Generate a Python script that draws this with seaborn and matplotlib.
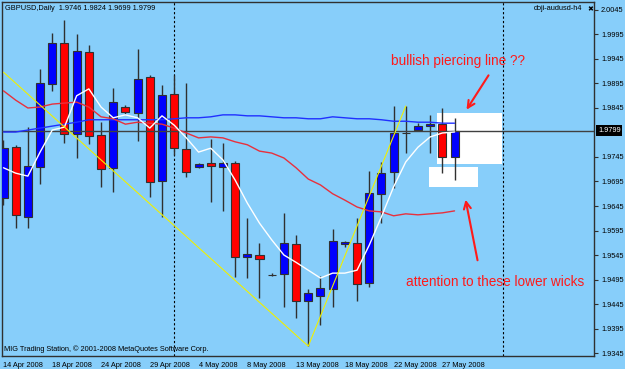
import matplotlib
matplotlib.use('Agg')
import matplotlib.pyplot as plt
import matplotlib.transforms as mtransforms
from matplotlib.patches import Rectangle
import seaborn as sns
import numpy as np
import pandas as pd

# GBPUSD daily candles
bar_open = [1.9661, 1.9765, 1.9623, 1.9725, 1.9894, 1.9978, 1.9792, 1.9959, 1.9790, 1.9723,
            1.9847, 1.9835, 1.9908, 1.9696, 1.9874, 1.9761, 1.9725, 1.9733, 1.9725, 1.9733,
            1.9541, 1.9545, 1.9504, 1.9506, 1.9567, 1.9451, 1.9461, 1.9476, 1.9567, 1.9570,
            1.9488, 1.9670, 1.9714, 1.9794, 1.9800, 1.9808, 1.9812, 1.9746]
bar_high = [1.9780, 1.9770, 1.9806, 1.9925, 1.9998, 2.0025, 1.9996, 1.9974, 1.9816, 1.9886,
            1.9851, 1.9965, 1.9912, 1.9892, 1.9912, 1.9896, 1.9733, 1.9782, 1.9774, 1.9737,
            1.9621, 1.9570, 1.9508, 1.9631, 1.9586, 1.9476, 1.9502, 1.9598, 1.9574, 1.9621,
            1.9716, 1.9735, 1.9849, 1.9849, 1.9814, 1.9831, 1.9845, 1.9824]
bar_low = [1.9647, 1.9600, 1.9600, 1.9690, 1.9880, 1.9774, 1.9743, 1.9772, 1.9684, 1.9674,
           1.9833, 1.9778, 1.9663, 1.9623, 1.9749, 1.9704, 1.9723, 1.9653, 1.9635, 1.9500,
           1.9498, 1.9457, 1.9502, 1.9439, 1.9416, 1.9359, 1.9402, 1.9439, 1.9561, 1.9451,
           1.9480, 1.9610, 1.9682, 1.9753, 1.9798, 1.9753, 1.9712, 1.9699]
bar_close = [1.9763, 1.9627, 1.9727, 1.9896, 1.9978, 1.9792, 1.9961, 1.9788, 1.9721, 1.9857,
             1.9837, 1.9904, 1.9694, 1.9872, 1.9763, 1.9714, 1.9731, 1.9727, 1.9733, 1.9541,
             1.9547, 1.9537, 1.9504, 1.9570, 1.9451, 1.9467, 1.9478, 1.9574, 1.9571, 1.9486,
             1.9672, 1.9712, 1.9794, 1.9794, 1.9808, 1.9812, 1.9745, 1.9799]

# moving averages as drawn (white = fast, red = mid, blue = slow)
ma_fast = [1.9723, 1.9712, 1.9706, 1.9755, 1.9800, 1.9806, 1.9870, 1.9884, 1.9847, 1.9825,
           1.9831, 1.9825, 1.9804, 1.9829, 1.9810, 1.9784, 1.9755, 1.9763, 1.9739, 1.9698,
           1.9651, 1.9610, 1.9576, 1.9545, 1.9530, 1.9514, 1.9498, 1.9508, 1.9508, 1.9514,
           1.9565, 1.9623, 1.9684, 1.9735, 1.9765, 1.9786, 1.9794, 1.9796]
ma_mid = [1.9880, 1.9861, 1.9845, 1.9847, 1.9853, 1.9855, 1.9857, 1.9847, 1.9827, 1.9823,
          1.9812, 1.9816, 1.9814, 1.9812, 1.9804, 1.9794, 1.9784, 1.9786, 1.9784, 1.9776,
          1.9770, 1.9757, 1.9753, 1.9743, 1.9723, 1.9700, 1.9688, 1.9670, 1.9657, 1.9643,
          1.9635, 1.9633, 1.9625, 1.9629, 1.9627, 1.9629, 1.9631, 1.9635]
ma_slow = [1.9796, 1.9796, 1.9800, 1.9804, 1.9808, 1.9812, 1.9816, 1.9821, 1.9821, 1.9821,
           1.9821, 1.9821, 1.9821, 1.9821, 1.9823, 1.9825, 1.9825, 1.9827, 1.9831, 1.9831,
           1.9829, 1.9829, 1.9827, 1.9825, 1.9825, 1.9823, 1.9823, 1.9827, 1.9825, 1.9823,
           1.9823, 1.9821, 1.9818, 1.9818, 1.9816, 1.9816, 1.9814, 1.9814]

zigzag_bars = [0, 25, 33]
zigzag_prices = [1.9918, 1.9359, 1.9849]

date_bars = [0, 4, 8, 12, 16, 20, 24, 28, 32, 36]
date_labels = ['14 Apr 2008', '18 Apr 2008', '24 Apr 2008', '29 Apr 2008', '4 May 2008',
               '8 May 2008', '13 May 2008', '18 May 2008', '22 May 2008', '27 May 2008']
price_ticks = [2.0045, 1.9995, 1.9945, 1.9895, 1.9845, 1.9745, 1.9695, 1.9645,
               1.9595, 1.9545, 1.9495, 1.9445, 1.9395, 1.9345]
last_price = 1.9799
separator_bars = [14, 41]

sns.set_style('white')
plt.rcParams['font.family'] = ['Liberation Sans', 'DejaVu Sans']

SKY = '#87CEFA'
EDGE = '#303030'
W, H = 625, 369
fig = plt.figure(figsize=(W / 100, H / 100), dpi=100, facecolor=SKY)
ax = fig.add_axes([2 / W, 1 - 356 / H, 592 / W, 354 / H], facecolor=SKY)

df = pd.DataFrame({'bar': np.arange(len(bar_open)), 'open': bar_open, 'high': bar_high,
                   'low': bar_low, 'close': bar_close})
up = df['close'] >= df['open']

# annotation boxes behind the candles
ax.add_patch(Rectangle((35.56, 1.97307), 40.9 - 35.56, 1.98348 - 1.97307,
                       facecolor='white', edgecolor='none', zorder=1))
ax.add_patch(Rectangle((34.9, 1.96838), 38.93 - 34.9, 1.97246 - 1.96838,
                       facecolor='white', edgecolor='none', zorder=1))

for b in separator_bars:
    ax.axvline(b, color='black', lw=0.8, ls=(0, (2, 2)), zorder=1.5)

ax.vlines(df['bar'], df['low'], df['high'], color=EDGE, lw=1, zorder=2)
ax.bar(df['bar'], (df['close'] - df['open']).abs(), bottom=df[['open', 'close']].min(axis=1),
       width=0.66, color=np.where(up, '#0000FF', '#FF0000'), edgecolor=EDGE, lw=0.8, zorder=3)

ax.axhline(last_price, color='#404040', lw=1, zorder=3.5)

sns.lineplot(x=df['bar'], y=ma_slow, color='#2030FF', lw=1, ax=ax, zorder=4)
sns.lineplot(x=df['bar'], y=ma_mid, color='#E8303C', lw=1, ax=ax, zorder=4)
sns.lineplot(x=df['bar'], y=ma_fast, color='white', lw=1, ax=ax, zorder=4)
sns.lineplot(x=zigzag_bars, y=zigzag_prices, color='#F0F000', lw=0.8, ax=ax, zorder=4)

ax.set_xlim(-0.123, 48.44)
ax.set_ylim(1.93389, 2.00613)
ax.set_xlabel('')
ax.set_ylabel('')

ax.yaxis.tick_right()
ax.set_yticks(price_ticks)
ax.set_yticklabels(['%.4f' % p for p in price_ticks])
ax.set_xticks(date_bars)
ax.set_xticklabels(date_labels, ha='left')
ax.tick_params(axis='both', labelsize=5.3, length=3, width=0.8, color=EDGE,
               labelcolor='black', pad=2)
ax.tick_params(axis='x', pad=1.5)
for s in ax.spines.values():
    s.set_color(EDGE)
    s.set_linewidth(1)

# current price tag on the axis
trans = mtransforms.blended_transform_factory(ax.transAxes, ax.transData)
ax.text(1.007, last_price, '1.9799', transform=trans, ha='left', va='center',
        fontsize=5.3, color='white', clip_on=False, zorder=6,
        bbox=dict(facecolor='black', edgecolor='none', pad=1.2))

red = '#FF1A1A'
ax.text(31.79, 1.99409, 'bullish piercing line ??', color=red, fontsize=9.8,
        ha='left', va='center', zorder=6)
ax.text(33.02, 1.94899, 'attention to these lower wicks', color=red, fontsize=9.8,
        ha='left', va='center', zorder=6)
ax.annotate('', xy=(37.86, 1.98368), xytext=(39.91, 1.99164),
            arrowprops=dict(arrowstyle='->,head_length=0.5,head_width=0.25', color=red, lw=1.5),
            zorder=6)
ax.annotate('', xy=(37.86, 1.96634), xytext=(38.93, 1.95287),
            arrowprops=dict(arrowstyle='->,head_length=0.5,head_width=0.25', color=red, lw=1.5),
            zorder=6)

fig.text(5 / W, 1 - 8 / H, 'GBPUSD,Daily  1.9746 1.9824 1.9699 1.9799', fontsize=5.3,
         ha='left', va='center', color='black')
fig.text(582 / W, 1 - 9 / H, 'doji-audusd-h4', fontsize=5.3, ha='right', va='center',
         color='black')
fig.text(590 / W, 1 - 9 / H, '\u2716', fontsize=5, ha='center', va='center', color='black',
         family=['DejaVu Sans'])
fig.text(4 / W, 1 - 349 / H, 'MIG Trading Station, \u00a9 2001-2008 MetaQuotes Software Corp.',
         fontsize=5.3, ha='left', va='center', color='black')

fig.savefig('out.png', dpi=100, facecolor=SKY)
